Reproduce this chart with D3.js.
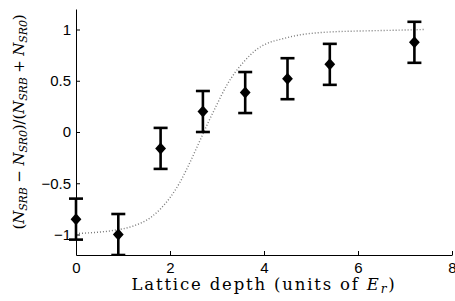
<!DOCTYPE html>
<html>
<head>
<meta charset="utf-8">
<script src="https://cdn.jsdelivr.net/npm/d3@7"></script>
<style>
  body { margin: 0; background: #fff; }
  .tick text { font-family: "Liberation Sans", Arial, sans-serif; font-size: 15px; fill: #000; }
  .lbl { font-family: "DejaVu Serif", "Liberation Serif", serif; fill: #000; }
</style>
</head>
<body>
<div id="chart"></div>
<script>

// measured points
var depth = [0, 0.9, 1.8, 2.7, 3.6, 4.5, 5.4, 7.2];
var asym = [-0.85, -1.0, -0.16, 0.2, 0.385, 0.52, 0.66, 0.875];
var errs = [0.2, 0.2, 0.2, 0.2, 0.2, 0.2, 0.2, 0.2];

// dotted model curve
var curveX = [0, 0.4, 0.8, 1.2, 1.6, 2.0, 2.2, 2.4, 2.6, 2.8, 3.0, 3.2, 3.4, 3.6, 3.8, 4.0, 4.4, 4.8, 5.2, 5.6, 6.0, 6.5, 7.0, 7.4];
var curveY = [-0.99, -0.98, -0.96, -0.92, -0.83, -0.64, -0.5, -0.32, -0.12, 0.08, 0.27, 0.45, 0.59, 0.7, 0.79, 0.85, 0.91, 0.95, 0.97, 0.98, 0.985, 0.99, 0.995, 1.0];

var xTicks = [0, 2, 4, 6, 8];
var yTicks = [-1, -0.5, 0, 0.5, 1];

var svgWidth = 455;
var svgHeight = 301;

var margin = { top: 9, right: 3, bottom: 46, left: 76 };

var width = svgWidth - margin.left - margin.right;
var height = svgHeight - margin.top - margin.bottom;

var svg = d3.select("#chart")
  .append("svg")
  .attr("width", svgWidth)
  .attr("height", svgHeight);

var chartGroup = svg.append("g")
  .attr("transform", `translate(${margin.left}, ${margin.top})`);

var xScale = d3.scaleLinear().domain([0, 8]).range([0, width]);
var yScale = d3.scaleLinear().domain([-1.2, 1.2]).range([height, 0]);

// clip only top/bottom, markers may hang over the y axis
svg.append("defs").append("clipPath")
  .attr("id", "plotclip")
  .append("rect")
  .attr("x", -20).attr("y", 0)
  .attr("width", width + 40).attr("height", height);

// axes (matlab style, ticks pointing in)
var bottomAxis = d3.axisBottom(xScale)
  .tickValues(xTicks)
  .tickFormat(d3.format("d"))
  .tickSizeInner(-4)
  .tickSizeOuter(0)
  .tickPadding(7);

var leftAxis = d3.axisLeft(yScale)
  .tickValues(yTicks)
  .tickFormat(d => d === 0 ? "0" : d3.format("")(d))
  .tickSizeInner(-4)
  .tickSizeOuter(0)
  .tickPadding(5);

var xAxis = chartGroup.append("g")
  .attr("transform", `translate(0, ${height})`)
  .call(bottomAxis);

var yAxis = chartGroup.append("g")
  .call(leftAxis);

chartGroup.selectAll(".domain").attr("stroke", "#000").attr("stroke-width", 1);
chartGroup.selectAll(".tick line").attr("stroke", "#000");

var plot = chartGroup.append("g").attr("clip-path", "url(#plotclip)");

// model curve
var curveData = curveX.map((x, i) => [x, curveY[i]]);
plot.append("path")
  .datum(curveData)
  .attr("fill", "none")
  .attr("stroke", "#7a7a7a")
  .attr("stroke-width", 1.4)
  .attr("stroke-dasharray", "1,2")
  .attr("d", d3.line().curve(d3.curveMonotoneX).x(d => xScale(d[0])).y(d => yScale(d[1])));

// error bars
var pts = depth.map((x, i) => ({ x: x, y: asym[i], e: errs[i] }));
var capW = 7;

var bars = plot.selectAll(".ebar")
  .data(pts)
  .enter()
  .append("g")
  .attr("class", "ebar")
  .attr("stroke", "#000")
  .attr("stroke-width", 2.6);

bars.append("line")
  .attr("x1", d => xScale(d.x)).attr("x2", d => xScale(d.x))
  .attr("y1", d => yScale(d.y + d.e)).attr("y2", d => yScale(d.y - d.e));
bars.append("line")
  .attr("x1", d => xScale(d.x) - capW).attr("x2", d => xScale(d.x) + capW)
  .attr("y1", d => yScale(d.y + d.e)).attr("y2", d => yScale(d.y + d.e));
bars.append("line")
  .attr("x1", d => xScale(d.x) - capW).attr("x2", d => xScale(d.x) + capW)
  .attr("y1", d => yScale(d.y - d.e)).attr("y2", d => yScale(d.y - d.e));

// diamonds
plot.selectAll(".diam")
  .data(pts)
  .enter()
  .append("path")
  .attr("class", "diam")
  .attr("fill", "#000")
  .attr("d", d => {
    var cx = xScale(d.x), cy = yScale(d.y), r = 6;
    return `M${cx},${cy - r}L${cx + r * 0.9},${cy}L${cx},${cy + r}L${cx - r * 0.9},${cy}Z`;
  });

// stretch a label to the width it has in the picture
function fitLength(sel, target) {
  var n = sel.text().length;
  var w = sel.node().getComputedTextLength();
  sel.style("letter-spacing", ((target - w) / n) + "px");
}

// x label
var xl = svg.append("text")
  .attr("class", "lbl")
  .attr("x", 264)
  .attr("y", 290)
  .attr("text-anchor", "middle")
  .style("font-size", "16.5px");
xl.append("tspan").text("Lattice depth (units of ");
xl.append("tspan").style("font-style", "italic").text("E");
xl.append("tspan").style("font-style", "italic").style("font-size", "12px").attr("dy", 3).text("r");
xl.append("tspan").attr("dy", -3).text(")");
fitLength(xl, 265);

// y label
var yl = svg.append("text")
  .attr("class", "lbl")
  .attr("transform", "translate(24, 122) rotate(-90)")
  .attr("text-anchor", "middle")
  .style("font-size", "15px");

function addN(sub) {
  yl.append("tspan").style("font-style", "italic").text("N");
  yl.append("tspan").style("font-style", "italic").style("font-size", "11px").attr("dy", 3).text(sub);
}
yl.append("tspan").text("(");
addN("SRB");
yl.append("tspan").attr("dy", -3).text(" − ");
addN("SR0");
yl.append("tspan").attr("dy", -3).text(")/(");
addN("SRB");
yl.append("tspan").attr("dy", -3).text(" + ");
addN("SR0");
yl.append("tspan").attr("dy", -3).text(")");
fitLength(yl, 215);

</script>
</body>
</html>
